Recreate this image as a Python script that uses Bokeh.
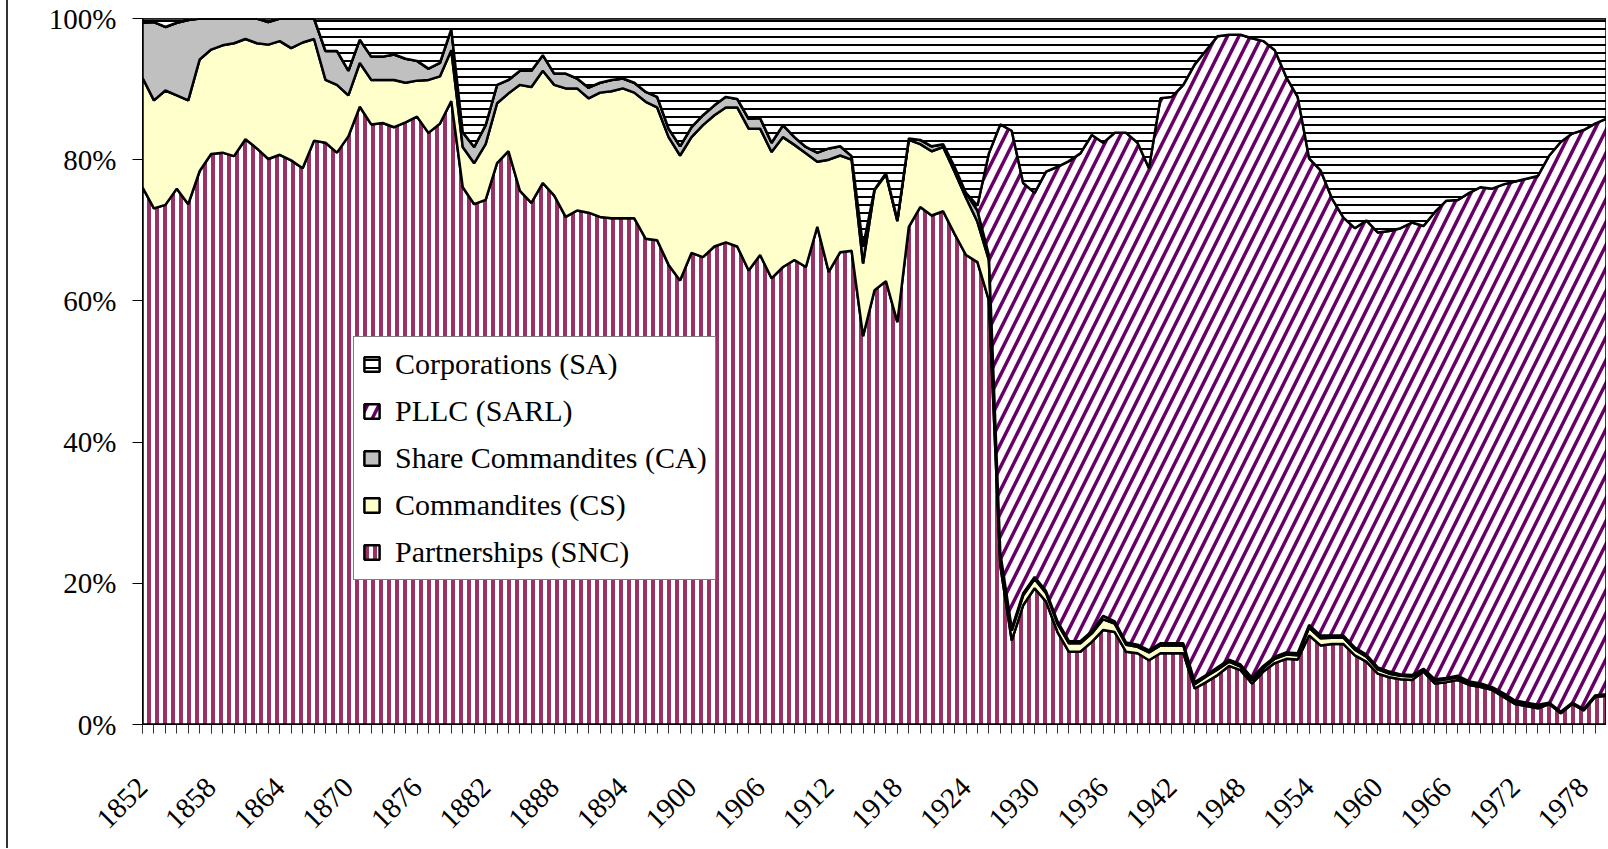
import numpy as np
from math import pi
from bokeh.plotting import figure
from bokeh.models import Range1d, FixedTicker, PrintfTickFormatter, Legend, LegendItem
from bokeh.embed import file_html
from bokeh.resources import INLINE

years = list(range(1852, 1981))
label_years = [1852, 1858, 1864, 1870, 1876, 1882, 1888, 1894, 1900, 1906, 1912,
               1918, 1924, 1930, 1936, 1942, 1948, 1954, 1960, 1966, 1972, 1978]
y_ticks = [0, 20, 40, 60, 80, 100]

# Partnerships (SNC), % of firms
snc = [76.1, 73.1, 73.6, 75.9, 73.7, 78.4, 80.8, 81.0, 80.5, 82.9,
       81.6, 80.1, 80.7, 79.9, 78.8, 82.7, 82.4, 81.0, 83.3, 87.5,
       85.0, 85.2, 84.6, 85.3, 86.1, 83.8, 85.1, 88.3, 76.1, 73.7,
       74.3, 79.5, 81.2, 75.6, 73.9, 76.7, 74.9, 71.9, 72.8, 72.5,
       71.9, 71.7, 71.7, 71.7, 68.8, 68.6, 65.1, 62.9, 66.8, 66.2,
       67.7, 68.3, 67.7, 64.3, 66.5, 63.2, 64.8, 65.8, 64.8, 70.5,
       64.1, 66.9, 67.1, 55.0, 61.5, 62.8, 57.0, 70.5, 73.3, 72.1,
       72.7, 69.5, 66.5, 65.5, 60.1, 22.5, 11.9, 16.9, 19.3, 17.4,
       13.1, 10.3, 10.3, 11.7, 13.4, 13.1, 10.3, 10.1, 9.1, 10.1,
       10.1, 10.1, 5.1, 6.0, 7.0, 8.3, 7.7, 5.8, 7.5, 8.7,
       9.3, 9.2, 12.6, 11.2, 11.4, 11.4, 9.8, 8.9, 7.2, 6.7,
       6.4, 6.3, 7.5, 5.8, 6.0, 6.3, 5.6, 5.3, 4.9, 3.9,
       2.9, 2.6, 2.3, 2.9, 1.6, 2.9, 2.0, 3.9, 4.1]

# Commandites (CS)
cs = [15.5, 15.3, 16.2, 13.2, 14.7, 15.8, 14.8, 15.2, 16.0, 14.2,
      14.9, 16.2, 16.1, 15.9, 17.8, 14.4, 8.9, 9.6, 5.8, 6.2,
      6.3, 6.1, 6.7, 5.6, 5.1, 7.5, 6.7, 7.2, 5.7, 5.8,
      7.9, 8.5, 8.2, 15.0, 16.4, 15.9, 15.7, 18.2, 17.3, 16.2,
      17.6, 18.0, 18.4, 17.8, 19.4, 18.8, 18.1, 17.7, 16.4, 18.7,
      18.6, 19.1, 19.7, 20.1, 17.9, 17.9, 18.4, 16.3, 16.1, 9.2,
      15.9, 13.7, 12.9, 10.3, 14.2, 15.1, 14.3, 12.3, 8.9, 9.1,
      9.1, 8.8, 8.1, 5.7, 5.7, 1.5, 1.4, 1.4, 1.3, 1.2,
      1.2, 1.2, 1.2, 1.2, 1.5, 1.2, 1.0, 0.9, 1.1, 1.1,
      1.1, 1.1, 0.6, 0.8, 0.8, 0.6, 0.5, 0.5, 0.5, 0.6,
      0.6, 0.6, 1.1, 1.0, 0.9, 0.9, 0.8, 0.7, 0.6, 0.5,
      0.5, 0.5, 0.2, 0.4, 0.4, 0.4, 0.3, 0.3, 0.2, 0.3,
      0.3, 0.3, 0.3, 0.1, 0.1, 0.1, 0.1, 0.1, 0.1]

# Share Commandites (CA)
ca = [7.8, 11.1, 9.0, 10.3, 11.4, 5.8, 4.4, 3.8, 3.5, 2.9,
      3.5, 3.2, 3.2, 4.2, 3.4, 2.9, 4.1, 4.8, 3.5, 3.3,
      3.3, 3.3, 3.6, 3.4, 2.8, 1.6, 1.9, 3.0, 2.1, 2.3,
      2.7, 2.6, 1.9, 2.0, 2.3, 2.2, 1.6, 2.1, 1.4, 1.5,
      1.4, 1.6, 1.4, 1.4, 1.4, 1.5, 1.2, 1.3, 1.4, 1.4,
      1.4, 1.5, 1.2, 1.4, 1.5, 1.3, 1.7, 1.1, 0.9, 1.3,
      1.6, 1.3, 0.5, 2.4, 0.1, 0.2, 0.2, 0.2, 0.6, 0.7,
      0.4, 0.7, 0.7, 1.6, 0.7, 0.3, 0.3, 0.3, 0.3, 0.3,
      0.3, 0.3, 0.3, 0.3, 0.5, 0.3, 0.3, 0.3, 0.3, 0.3,
      0.3, 0.3, 0.3, 0.2, 0.3, 0.3, 0.3, 0.3, 0.3, 0.3,
      0.3, 0.3, 0.4, 0.4, 0.3, 0.3, 0.3, 0.3, 0.3, 0.3,
      0.2, 0.2, 0.2, 0.2, 0.2, 0.2, 0.2, 0.2, 0.2, 0.2,
      0.2, 0.2, 0.2, 0.1, 0.1, 0.1, 0.1, 0.1, 0.1]

# PLLC (SARL) - none before 1925
sarl = [0.0] * 73 + [
        0.7, 14.4, 60.7, 70.5, 58.1, 54.4, 59.4,
        64.4, 68.0, 69.1, 70.3, 67.0, 69.2, 72.2, 71.1, 68.3, 77.2,
        77.4, 79.1, 87.5, 88.5, 89.4, 88.5, 89.2, 90.6, 88.5, 85.9,
        81.5, 78.8, 66.1, 65.9, 61.9, 59.2, 59.4, 61.5, 61.6, 62.4,
        63.2, 64.1, 62.7, 66.2, 67.6, 67.4, 69.2, 70.3, 70.6, 72.1,
        73.5, 74.2, 74.9, 77.5, 80.7, 80.6, 82.0, 81.0, 81.5]

# Corporations (SA)
sa = [0.6, 0.5, 1.2, 0.6, 0.2, 0.0, 0.0, 0.0, 0.0, 0.0,
      0.0, 0.5, 0.0, 0.0, 0.0, 0.0, 4.6, 4.6, 7.4, 3.0,
      5.4, 5.4, 5.1, 5.7, 6.0, 7.1, 6.3, 1.5, 16.1, 18.2,
      15.1, 9.4, 8.7, 7.4, 7.4, 5.2, 7.8, 7.8, 8.5, 9.8,
      9.1, 8.7, 8.5, 9.1, 10.4, 11.1, 15.6, 18.1, 15.4, 13.7,
      12.3, 11.1, 11.4, 14.2, 14.1, 17.6, 15.1, 16.8, 18.2, 19.0,
      18.4, 18.1, 19.5, 32.3, 24.2, 21.9, 28.5, 17.0, 17.2, 18.1,
      17.8, 21.0, 24.7, 26.5, 19.1, 15.0, 15.9, 23.3, 24.7, 21.7,
      21.0, 20.2, 19.1, 16.5, 17.6, 16.2, 16.2, 17.6, 21.2, 11.3,
      11.1, 9.4, 6.5, 4.5, 2.5, 2.3, 2.3, 2.8, 3.2, 4.5,
      8.3, 11.1, 19.8, 21.5, 25.5, 28.2, 29.7, 28.6, 30.3, 30.1,
      29.7, 28.9, 29.4, 27.4, 25.8, 25.7, 24.7, 23.9, 24.1, 23.5,
      23.1, 22.7, 22.3, 19.4, 17.5, 16.3, 15.8, 14.9, 14.2]

series = [
    ("Partnerships (SNC)", snc, dict(fill_color="white", hatch_pattern="vertical_line",
                                     hatch_color="#993366", hatch_scale=8, hatch_weight=4)),
    ("Commandites (CS)", cs, dict(fill_color="#FFFFCC")),
    ("Share Commandites (CA)", ca, dict(fill_color="#C0C0C0")),
    ("PLLC (SARL)", sarl, dict(fill_color="white", hatch_pattern="right_diagonal_line",
                               hatch_color="#660066", hatch_scale=23, hatch_weight=3.5)),
    ("Corporations (SA)", sa, dict(fill_color="white", hatch_pattern="horizontal_line",
                                   hatch_color="black", hatch_scale=8, hatch_weight=2)),
]

FONT = "Liberation Serif"
FSIZE = "30px"
AXSIZE = "29px"

p = figure(width=1600, height=848, output_backend="svg", toolbar_location=None,
           x_range=Range1d(1852, 1980), y_range=Range1d(0, 100),
           min_border_left=134, min_border_right=2, min_border_top=18, min_border_bottom=124,
           background_fill_color="white", border_fill_color="white",
           outline_line_color="black", outline_line_width=1,
           styles={"margin-left": "6px", "border-left": "2px solid #333333"})
p.xgrid.visible = False
p.ygrid.visible = False

x_poly = years + years[::-1]
bottom = np.zeros(len(years))
renderers = {}
for name, vals, style in series:
    top = bottom + np.array(vals, dtype=float)
    ys = list(top) + list(bottom[::-1])
    r = p.patch(x_poly, ys, line_color="black", line_width=2.5, **style)
    renderers[name] = r
    bottom = top

legend = Legend(items=[LegendItem(label=name, renderers=[renderers[name]])
                       for name, _, _ in series[::-1]],
                location=(211, 144), orientation="vertical",
                border_line_color="black", border_line_width=1,
                background_fill_color="white", background_fill_alpha=1.0,
                padding=8, spacing=9, margin=0,
                label_height=38, glyph_width=19, glyph_height=18, label_standoff=14,
                label_text_font=FONT, label_text_font_size=FSIZE, label_text_color="black")
p.add_layout(legend, "center")

# y axis
p.yaxis.ticker = FixedTicker(ticks=y_ticks)
p.yaxis.formatter = PrintfTickFormatter(format="%d%%")
p.yaxis.major_label_text_font = FONT
p.yaxis.major_label_text_font_size = AXSIZE
p.yaxis.major_label_text_color = "black"
p.yaxis.major_label_standoff = 16
p.yaxis.major_tick_out = 10
p.yaxis.major_tick_in = 0
p.yaxis.minor_tick_out = 0
p.yaxis.minor_tick_in = 0
p.yaxis.axis_line_color = "black"
p.yaxis.major_tick_line_color = "black"

# x axis: a tick at every year, labels every 6 years, rotated 45 degrees
p.xaxis.ticker = FixedTicker(ticks=label_years, minor_ticks=years)
p.xaxis.major_label_orientation = pi / 4
p.xaxis.major_label_text_font = FONT
p.xaxis.major_label_text_font_size = AXSIZE
p.xaxis.major_label_text_color = "black"
p.xaxis.major_label_standoff = 49
p.xaxis.major_tick_out = 9
p.xaxis.major_tick_in = 0
p.xaxis.minor_tick_out = 9
p.xaxis.minor_tick_in = 0
p.xaxis.axis_line_color = "black"
p.xaxis.major_tick_line_color = "#333333"
p.xaxis.minor_tick_line_color = "#333333"

open("out.html", "w").write(file_html(p, INLINE))
